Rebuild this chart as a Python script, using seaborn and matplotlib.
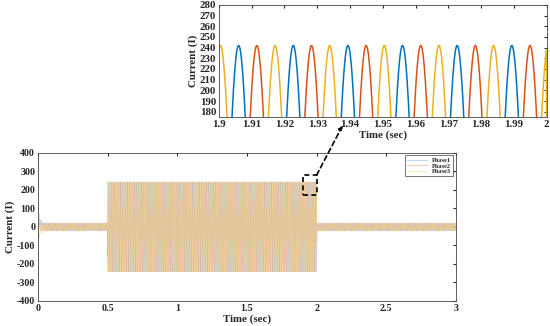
import numpy as np
import pandas as pd
import matplotlib
matplotlib.use('Agg')
import matplotlib.pyplot as plt
import seaborn as sns

# Values
PHASES = ['Phase1', 'Phase2', 'Phase3']
PHASE_SHIFT_DEG = [50, -70, 170]          # blue leads red leads yellow
FREQ_HZ = 60                              # peaks every ~0.0167 s in the zoom
SEG_START = [0.0, 0.5, 2.0]               # load steps (sec)
SEG_END = [0.5, 2.0, 3.0]
SEG_AMP = [20, 242, 20]                   # peak current per segment
START_OFFSET = [75, 0, -70]               # inrush spike at t=0 per phase
OFFSET_TAU = 0.015
FS = 20000

MAIN_XTICKS = [0, 0.5, 1, 1.5, 2, 2.5, 3]
MAIN_XLABELS = ['0', '0.5', '1', '1.5', '2', '2.5', '3']
MAIN_YTICKS = list(range(-400, 401, 100))
ZOOM_XTICKS = [1.9, 1.91, 1.92, 1.93, 1.94, 1.95, 1.96, 1.97, 1.98, 1.99, 2.0]
ZOOM_XLABELS = ['1.9', '1.91', '1.92', '1.93', '1.94', '1.95', '1.96', '1.97', '1.98', '1.99', '2']
ZOOM_YTICKS = list(range(180, 281, 10))

MATLAB = ['#0072BD', '#D95319', '#EDB120']
LIGHT = ['#8fb8dc', '#eaa77f', '#f0cf86']

# build the waveform table
t = np.arange(0, 3.0, 1 / FS)
amp = np.zeros_like(t)
for a, s, e in zip(SEG_AMP, SEG_START, SEG_END):
    amp[(t >= s) & (t < e)] = a
rows = []
for name, sh, off in zip(PHASES, PHASE_SHIFT_DEG, START_OFFSET):
    i = amp * np.sin(2 * np.pi * FREQ_HZ * t + np.deg2rad(sh) - np.pi / 2) + off * np.exp(-t / OFFSET_TAU)
    rows.append(pd.DataFrame({'Time': t, 'Current': i, 'Phase': name}))
df = pd.concat(rows, ignore_index=True)

sns.set_style('white')
plt.rcParams['font.family'] = ['Liberation Serif', 'DejaVu Serif']
plt.rcParams['font.weight'] = 'bold'
plt.rcParams['axes.unicode_minus'] = False

fig = plt.figure(figsize=(5.5, 3.26), dpi=100)

## Main plot
ax = fig.add_axes([0.069, 0.077, 0.76, 0.454])
sns.lineplot(data=df, x='Time', y='Current', hue='Phase', palette=LIGHT,
             estimator=None, sort=False, linewidth=0.7, alpha=0.6, ax=ax)
ax.set_xlim(0, 3)
ax.set_ylim(-400, 400)
ax.set_xticks(MAIN_XTICKS, MAIN_XLABELS)
ax.set_yticks(MAIN_YTICKS)
ax.set_xlabel('Time (sec)', fontsize=7.8, fontweight='bold', labelpad=1)
ax.set_ylabel('Current (I)', fontsize=7.8, fontweight='bold', labelpad=1)
ax.tick_params(direction='in', top=True, right=True, labelsize=7.2, length=2.5, pad=2)
for sp in ax.spines.values():
    sp.set_color('#444444')
    sp.set_linewidth(0.6)
leg = ax.legend(loc='upper right', fontsize=4.6, frameon=True, fancybox=False,
                edgecolor='#333333', handlelength=3.2, borderpad=0.3, labelspacing=0.05,
                borderaxespad=0.4)
leg.get_frame().set_linewidth(0.6)
for txt in leg.get_texts():
    txt.set_fontweight('bold')

# dashed zoom box
ax.plot([1.9, 2.0, 2.0, 1.9, 1.9], [175, 175, 280, 280, 175], ls=(0, (3, 2)),
        color='black', lw=1.2)

## Zoomed plot
ax2 = fig.add_axes([0.398, 0.641, 0.596, 0.344])
sub = df[(df['Time'] >= 1.899) & (df['Time'] <= 2.0)]
sns.lineplot(data=sub, x='Time', y='Current', hue='Phase', palette=MATLAB,
             estimator=None, sort=False, linewidth=1.1, legend=False, ax=ax2)
ax2.set_xlim(1.9, 2.0)
ax2.set_ylim(175, 280)
ax2.set_xticks(ZOOM_XTICKS, ZOOM_XLABELS)
ax2.set_yticks(ZOOM_YTICKS)
ax2.set_xlabel('Time (sec)', fontsize=7.8, fontweight='bold', labelpad=1)
ax2.set_ylabel('Current (I)', fontsize=7.8, fontweight='bold', labelpad=1)
ax2.tick_params(direction='in', top=True, right=True, labelsize=7.8, length=2.5, pad=2)
for sp in ax2.spines.values():
    sp.set_color('#444444')
    sp.set_linewidth(0.6)

# dashed pointer from box to the zoom
ax.annotate('', xy=(0.623, 0.615), xycoords='figure fraction',
            xytext=(2.0, 280), textcoords='data',
            arrowprops=dict(arrowstyle='-|>', ls=(0, (3, 2)), lw=1.2, color='black',
                            mutation_scale=6, shrinkA=0, shrinkB=0))

fig.savefig('out.png', dpi=100)
